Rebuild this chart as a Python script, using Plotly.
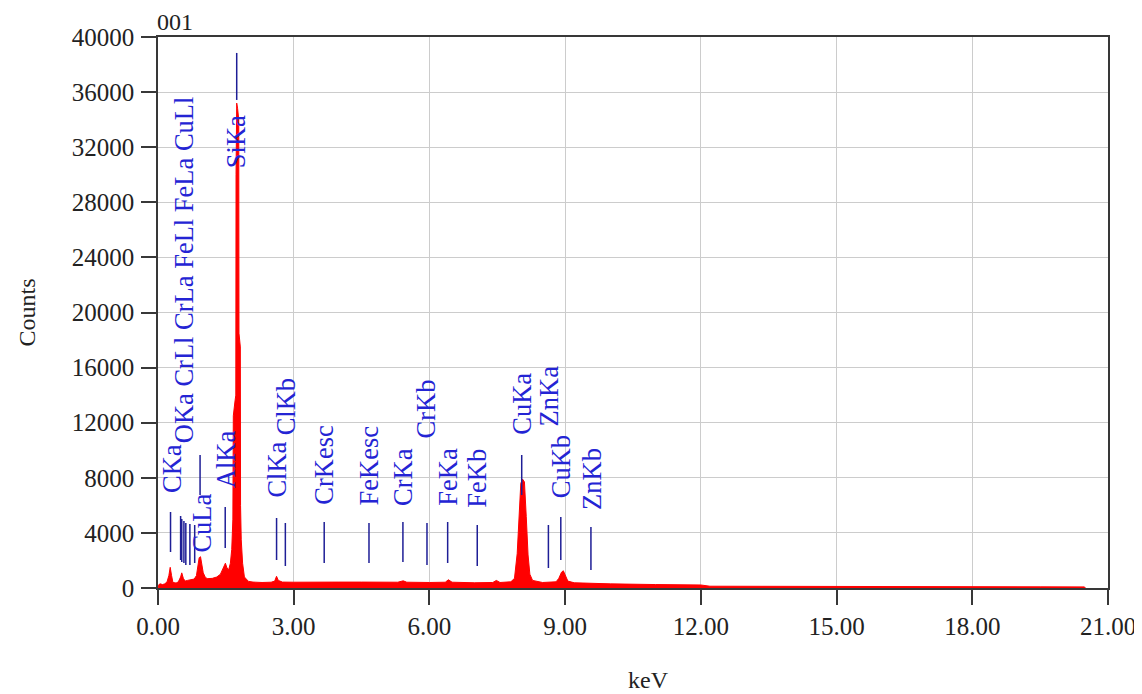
import plotly.graph_objects as go

# ---------------- spectrum data ----------------
energy_kev = [0.00, 0.02, 0.05, 0.10, 0.15, 0.20, 0.24, 0.27, 0.30, 0.33, 0.40, 0.45,
              0.50, 0.525, 0.56, 0.60, 0.65, 0.70, 0.75, 0.80, 0.85, 0.88, 0.91, 0.94,
              0.97, 1.00, 1.05, 1.10, 1.20, 1.30, 1.38, 1.44, 1.49, 1.52, 1.56, 1.60,
              1.63, 1.655, 1.665, 1.70, 1.72, 1.725, 1.74, 1.76, 1.785, 1.79, 1.82, 1.825,
              1.84, 1.87, 1.91, 2.00, 2.10, 2.30, 2.50, 2.58, 2.62, 2.66,
              2.75, 3.00, 3.50, 4.00, 4.50, 5.00, 5.30, 5.42, 5.50, 6.00, 6.35, 6.42,
              6.50, 7.00, 7.40, 7.48, 7.56, 7.80, 7.88, 7.94, 7.98, 8.02, 8.06, 8.10,
              8.14, 8.18, 8.22, 8.28, 8.50, 8.80, 8.86, 8.92, 8.96, 9.00, 9.06, 9.20,
              9.60, 10.00, 11.00, 12.00, 12.20, 13.00, 14.00, 15.00, 16.50, 18.00,
              19.50, 20.48, 20.50]
counts = [0, 250, 300, 250, 300, 450, 900, 1500, 900, 400, 360, 450,
          800, 1100, 700, 500, 550, 580, 600, 650, 900, 1500, 2200, 2270,
          1800, 1100, 750, 680, 700, 800, 1000, 1400, 1800, 1500, 1300, 1800,
          2800, 5000, 12500, 13500, 14000, 30000, 35200, 34800, 34000, 18500, 17500, 6000,
          3500, 1800, 800, 480, 430, 400, 420, 500, 850, 550,
          430, 420, 450, 430, 430, 420, 420, 520, 420, 400, 420, 600,
          420, 380, 400, 550, 400, 450, 700, 2500, 5500, 7600, 7900, 7700,
          5200, 2400, 1000, 550, 400, 450, 700, 1150, 1250, 900, 500, 380,
          330, 300, 250, 220, 130, 120, 110, 100, 95, 90,
          85, 80, 0]

# ---------------- element line markers ----------------
line_names = ["CKa", "CrLl", "OKa", "CrLa", "FeLl", "FeLa", "CuLl", "CuLa", "AlKa", "SiKa",
              "ClKa", "ClKb", "CrKesc", "FeKesc", "CrKa", "CrKb", "FeKa", "FeKb",
              "CuKa", "ZnKa", "CuKb", "ZnKb"]
line_energy = [0.277, 0.500, 0.525, 0.573, 0.615, 0.705, 0.811, 0.930, 1.486, 1.740,
               2.621, 2.815, 3.674, 4.664, 5.414, 5.946, 6.403, 7.057,
               8.040, 8.630, 8.904, 9.570]
marker_top = [5518, 5227, 5009, 4864, 4719, 4646, 4574, 9656, 5881, 38842,
              5082, 4719, 4792, 4719, 4792, 4719, 4792, 4574,
              9656, 4574, 5155, 4429]
marker_bottom = [2614, 2033, 1888, 1815, 1670, 1670, 1815, 6752, 2904, 35430,
                 2033, 1597, 1815, 1815, 1888, 1670, 1815, 1597,
                 6752, 1452, 2033, 1307]

# ---------------- peak labels ----------------
label_text = ["CKa", "OKa CrLl CrLa FeLl FeLa CuLl", "CuLa", "AlKa", "SiKa",
              "ClKa", "ClKb", "CrKesc", "FeKesc", "CrKa", "CrKb", "FeKa", "FeKb",
              "CuKa", "ZnKa", "CuKb", "ZnKb"]
label_energy = [0.277, 0.525, 0.930, 1.486, 1.740,
                2.621, 2.815, 3.674, 4.664, 5.414, 5.946, 6.403, 7.057,
                8.040, 8.630, 8.904, 9.570]
label_base = [6752, 10382, 2396, 7115, 30347,
              6389, 10963, 5881, 5881, 5808, 10745, 5808, 5663,
              10963, 11616, 6389, 5518]
label_shift = [2, 3, 1, 1, 0, 0, 1.5, 0, 0, 0, -1, 0, 0, 0, 1.5, 1, 1]

x_ticks = [0, 3, 6, 9, 12, 15, 18, 21]
y_ticks = [0, 4000, 8000, 12000, 16000, 20000, 24000, 28000, 32000, 36000, 40000]

SERIF = "Liberation Serif, Times New Roman, serif"
LABEL_BLUE = "#2424d4"
LINE_BLUE = "#1e1e96"
AXIS = "#383838"

fig = go.Figure()

fig.add_trace(go.Scatter(
    x=energy_kev, y=counts, mode="lines", fill="tozeroy",
    line=dict(color="#ff0000", width=1), fillcolor="#ff0000",
    hoverinfo="skip", showlegend=False))

mx, my = [], []
for e, t, b in zip(line_energy, marker_top, marker_bottom):
    mx += [e, e, None]
    my += [t, b, None]
fig.add_trace(go.Scatter(x=mx, y=my, mode="lines",
                         line=dict(color=LINE_BLUE, width=1.5),
                         hoverinfo="skip", showlegend=False))

annotations = []
for txt, e, base, sh in zip(label_text, label_energy, label_base, label_shift):
    annotations.append(dict(
        x=e, y=base, xref="x", yref="y", text=txt, textangle=-90,
        showarrow=False, xanchor="center", yanchor="bottom", xshift=sh,
        font=dict(family=SERIF, size=26.5, color=LABEL_BLUE)))

annotations += [
    dict(x=-0.1379, y=0.5, xref="paper", yref="paper", text="Counts", textangle=-90,
         showarrow=False, xanchor="center", yanchor="middle",
         font=dict(family=SERIF, size=24, color="#222222")),
    dict(x=0.5158, y=-0.167, xref="paper", yref="paper", text="keV",
         showarrow=False, xanchor="center", yanchor="middle",
         font=dict(family=SERIF, size=24, color="#222222")),
    dict(x=0, y=1.027, xref="paper", yref="paper", text="001", xshift=-3,
         showarrow=False, xanchor="left", yanchor="middle",
         font=dict(family=SERIF, size=24, color="#222222")),
]

# the page body adds an 8 px offset, so margins are set 8 px smaller on the left/top
fig.update_layout(
    width=1142, height=694, autosize=False,
    margin=dict(l=150, r=42, t=29, b=114),
    paper_bgcolor="white", plot_bgcolor="white",
    annotations=annotations,
    xaxis=dict(range=[0, 21], tickvals=x_ticks, ticktext=[f"{v:.2f}" for v in x_ticks],
               showgrid=True, gridcolor="#cccccc", gridwidth=1, zeroline=False,
               showline=True, linecolor=AXIS, linewidth=1.5, mirror=True,
               ticks="outside", ticklen=15, tickwidth=1.5, tickcolor=AXIS,
               ticklabelstandoff=0,
               tickfont=dict(family=SERIF, size=25, color="#222222")),
    yaxis=dict(range=[0, 40000], tickvals=y_ticks, ticktext=[str(v) for v in y_ticks],
               showgrid=True, gridcolor="#cccccc", gridwidth=1, zeroline=False,
               showline=True, linecolor=AXIS, linewidth=1.5, mirror=True,
               ticks="outside", ticklen=15, tickwidth=1.5, tickcolor=AXIS,
               ticklabelstandoff=2,
               tickfont=dict(family=SERIF, size=25, color="#222222")),
)

fig.write_html("out.html")
